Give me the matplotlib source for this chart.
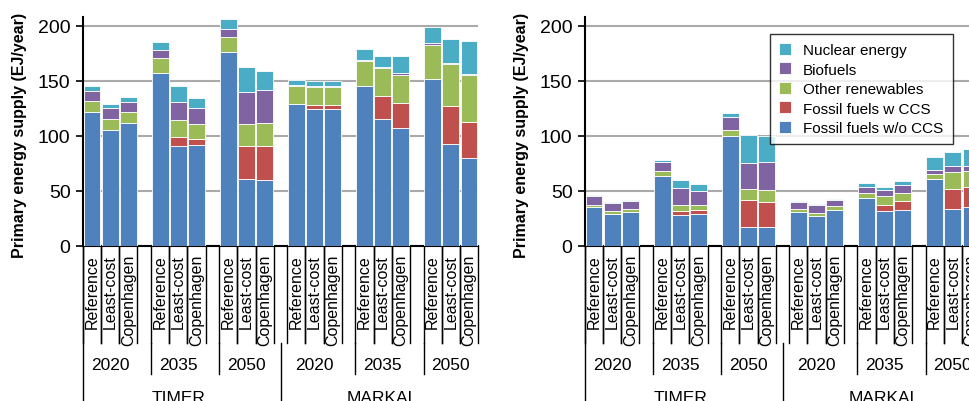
import matplotlib
matplotlib.use("Agg")
import matplotlib.pyplot as plt
import numpy as np

series = ["Fossil fuels w/o CCS", "Fossil fuels w CCS", "Other renewables", "Biofuels", "Nuclear energy"]
colors = ["#4f81bd", "#c0504d", "#9bbb59", "#8064a2", "#4bacc6"]
scenarios = ["Reference", "Least-cost", "Copenhagen"]
years = ["2020", "2035", "2050"]
models = ["TIMER", "MARKAL"]

# cumulative tops per bar: [w/o CCS, w CCS, other ren, biofuels, nuclear]
left_cum = [
    [122, 122, 132, 141, 145], [105, 105, 115, 125, 129], [112, 112, 122, 131, 135],
    [157, 157, 171, 178, 185], [91, 99, 114, 131, 145], [92, 97, 111, 125, 134],
    [176, 176, 190, 197, 206], [61, 91, 111, 140, 163], [60, 91, 112, 142, 159],
    [129, 129, 145, 146, 151], [124, 128, 144, 145, 150], [124, 128, 144, 145, 150],
    [145, 145, 168, 169, 179], [115, 136, 162, 163, 173], [107, 130, 155, 157, 173],
    [152, 152, 183, 184, 199], [93, 127, 165, 166, 188], [80, 113, 155, 156, 186],
]
right_cum = [
    [35, 35, 37, 45, 46], [29, 29, 32, 39, 40], [31, 31, 34, 41, 42],
    [64, 64, 68, 76, 78], [28, 32, 37, 53, 60], [29, 33, 37, 50, 56],
    [100, 100, 105, 117, 121], [17, 42, 52, 75, 101], [17, 40, 51, 76, 100],
    [31, 31, 34, 40, 41], [27, 27, 30, 37, 38], [33, 33, 36, 42, 43],
    [44, 44, 48, 54, 57], [32, 37, 45, 51, 54], [33, 41, 48, 55, 59],
    [61, 61, 65, 69, 81], [34, 52, 67, 73, 85], [35, 54, 68, 73, 88],
]

W, H = 970, 402
fig = plt.figure(figsize=(W/100, H/100), dpi=100)
plt.rcParams['font.family'] = ['Liberation Sans', 'DejaVu Sans']

def panel(x0, cum, legend=False):
    ax = fig.add_axes([x0/W, (H-247)/H, 395/W, (247-18)/H])
    cum = np.array(cum, dtype=float)
    vals = np.diff(np.hstack([np.zeros((len(cum), 1)), cum]), axis=1)
    pos = np.array([g*3.75 + i for g in range(6) for i in range(3)], dtype=float)
    bottom = np.zeros(len(pos))
    handles = []
    for k in range(5):
        h = ax.bar(pos, vals[:, k], bottom=bottom, width=0.92, color=colors[k],
                   edgecolor="white", linewidth=0.6, label=series[k], zorder=3)
        handles.append(h)
        bottom += vals[:, k]
    xl = (-0.5, pos[-1] + 0.5)
    ax.set_xlim(*xl)
    ax.set_ylim(0, 208)
    ax.set_yticks([0, 50, 100, 150, 200])
    ax.tick_params(axis='y', labelsize=14, length=5, width=1.2, pad=4)
    ax.grid(axis='y', color='#aaaaaa', linewidth=1.5, zorder=0)
    ax.set_xticks([])
    for s in ["top", "right"]:
        ax.spines[s].set_visible(False)
    ax.spines["left"].set_linewidth(1.5)
    ax.spines["bottom"].set_linewidth(1.5)
    fig.text((x0-63)/W, (H-135)/H, "Primary energy supply (EJ/year)", rotation=90,
             ha='center', va='center', fontsize=11.5, fontweight='bold')
    trans = ax.get_xaxis_transform()
    px = 1/(247-18)
    kw = dict(transform=trans, clip_on=False, color='black', linewidth=1)
    for j, p in enumerate(pos):
        ax.text(p, -8*px, scenarios[j % 3], rotation=90, ha='center', va='top',
                fontsize=11.5, transform=trans)
        for e in (p-0.5, p+0.5):
            ax.plot([e, e], [0, -97*px], **kw)
    for g in range(6):
        c = pos[g*3+1]
        ax.text(c, -119*px, years[g % 3], ha='center', va='center', fontsize=12.5, transform=trans)
    for g in range(1, 6):
        b = pos[g*3] - 0.5
        if g % 3:
            ax.plot([b, b], [-97*px, -128*px], **kw)
    for b in (xl[0], (pos[8] + pos[9]) / 2):
        ax.plot([b, b], [0 if b == xl[0] else -97*px, -160*px], **kw)
    for m in range(2):
        c = pos[m*9+4]
        ax.text(c, -152*px, models[m], ha='center', va='center', fontsize=12.5, transform=trans)
    if legend:
        ax.legend(handles[::-1], series[::-1], loc='upper right', bbox_to_anchor=(0.95, 0.96),
                  fontsize=11, frameon=True, fancybox=False, edgecolor='black',
                  handlelength=0.8, handleheight=0.8, borderpad=0.6, labelspacing=0.35)
    return ax

panel(83, left_cum)
panel(585, right_cum, legend=True)
fig.savefig("out.png", dpi=100)
